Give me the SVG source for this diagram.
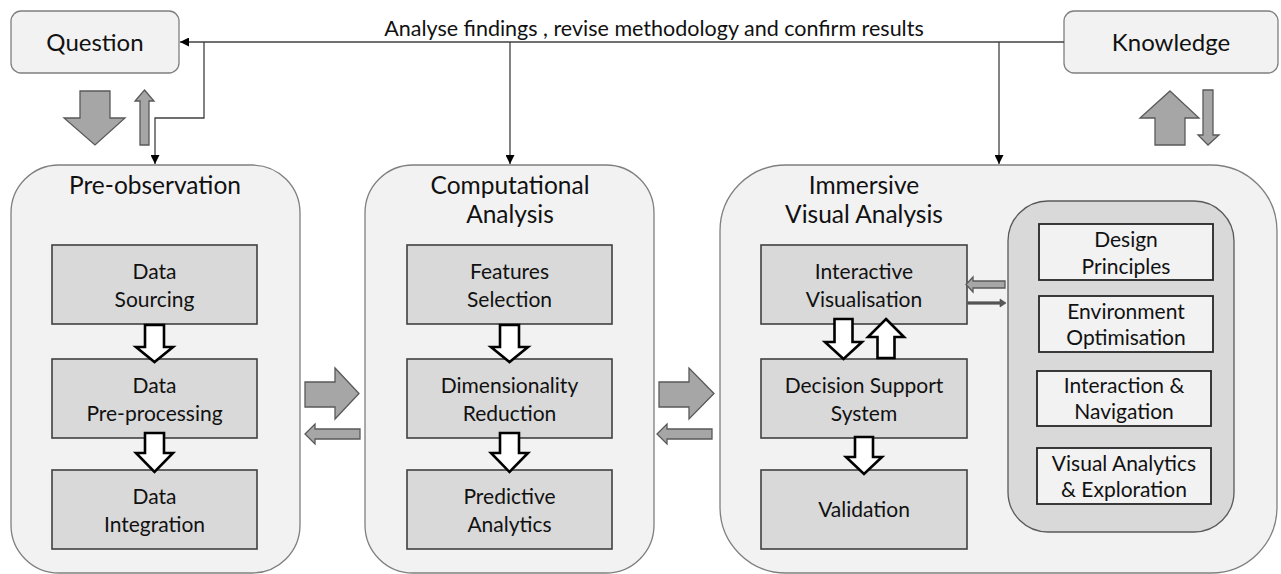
<svg xmlns="http://www.w3.org/2000/svg" width="1281" height="574" viewBox="0 0 1281 574">
  <defs>
    <style>
      .txt { font-family: Lato, "Open Sans", "Liberation Sans", sans-serif; fill: #111111; text-anchor: middle; }
      .title { font-size: 24.5px; }
      .lbl { font-size: 21px; }
      .end { font-size: 24px; }
      .note { font-size: 21.5px; }
      .endbox { fill: #f2f2f2; stroke: #7f7f7f; stroke-width: 1.3; }
      .stage { fill: #f2f2f2; stroke: #7f7f7f; stroke-width: 1.3; }
      .step { fill: #d9d9d9; stroke: #404040; stroke-width: 1.6; }
      .pool { fill: #d9d9d9; stroke: #595959; stroke-width: 1.3; }
      .item { fill: #f2f2f2; stroke: #262626; stroke-width: 1.8; }
      .flow { fill: none; stroke: #404040; stroke-width: 1.3; }
      .block { fill: #a6a6a6; stroke: #595959; stroke-width: 1.3; stroke-linejoin: miter; }
      .hollow { fill: #ffffff; stroke: #000000; stroke-width: 2.6; stroke-linejoin: miter; }
    </style>
    <marker id="tri" viewBox="0 0 10 10" refX="10" refY="5" markerWidth="9" markerHeight="9" markerUnits="userSpaceOnUse" orient="auto">
      <path d="M0,0 L10,5 L0,10 z" fill="#000"/>
    </marker>
  </defs>

  <!-- end points -->
  <g id="question">
    <rect class="endbox" x="11" y="11" width="168" height="62" rx="10"/>
    <text class="txt end" x="95" y="51">Question</text>
  </g>
  <g id="knowledge">
    <rect class="endbox" x="1064" y="11" width="214" height="62" rx="10"/>
    <text class="txt end" x="1171" y="51">Knowledge</text>
  </g>

  <!-- stage 1 -->
  <g id="pre-observation">
    <rect class="stage" x="11" y="165" width="289" height="408" rx="48"/>
    <text class="txt title" x="155" y="194">Pre-observation</text>
  </g>
  <g id="data-sourcing">
    <rect class="step" x="52" y="245" width="205" height="79"/>
    <text class="txt lbl" x="154.5" y="278.5">Data</text>
    <text class="txt lbl" x="154.5" y="307">Sourcing</text>
  </g>
  <g id="data-preprocessing">
    <rect class="step" x="52" y="359" width="205" height="79"/>
    <text class="txt lbl" x="154.5" y="393">Data</text>
    <text class="txt lbl" x="154.5" y="421">Pre-processing</text>
  </g>
  <g id="data-integration">
    <rect class="step" x="52" y="470" width="205" height="79"/>
    <text class="txt lbl" x="154.5" y="503.5">Data</text>
    <text class="txt lbl" x="154.5" y="531.5">Integration</text>
  </g>

  <!-- stage 2 -->
  <g id="computational-analysis">
    <rect class="stage" x="365" y="165" width="289" height="408" rx="48"/>
    <text class="txt title" x="510" y="194">Computational</text>
    <text class="txt title" x="510" y="223">Analysis</text>
  </g>
  <g id="features-selection">
    <rect class="step" x="407" y="245" width="205" height="79"/>
    <text class="txt lbl" x="509.5" y="278.5">Features</text>
    <text class="txt lbl" x="509.5" y="307">Selection</text>
  </g>
  <g id="dimensionality-reduction">
    <rect class="step" x="407" y="359" width="205" height="79"/>
    <text class="txt lbl" x="509.5" y="393">Dimensionality</text>
    <text class="txt lbl" x="509.5" y="421">Reduction</text>
  </g>
  <g id="predictive-analytics">
    <rect class="step" x="407" y="470" width="205" height="79"/>
    <text class="txt lbl" x="509.5" y="503.5">Predictive</text>
    <text class="txt lbl" x="509.5" y="531.5">Analytics</text>
  </g>

  <!-- stage 3 -->
  <g id="immersive-visual-analysis">
    <rect class="stage" x="720" y="165" width="557" height="408" rx="66"/>
    <text class="txt title" x="864" y="194">Immersive</text>
    <text class="txt title" x="864" y="223">Visual Analysis</text>
  </g>
  <g id="interactive-visualisation">
    <rect class="step" x="761" y="245" width="206" height="79"/>
    <text class="txt lbl" x="864" y="278.5">Interactive</text>
    <text class="txt lbl" x="864" y="306.5">Visualisation</text>
  </g>
  <g id="decision-support-system">
    <rect class="step" x="761" y="359" width="206" height="79"/>
    <text class="txt lbl" x="864" y="393">Decision Support</text>
    <text class="txt lbl" x="864" y="421">System</text>
  </g>
  <g id="validation">
    <rect class="step" x="761" y="470" width="206" height="79"/>
    <text class="txt lbl" x="864" y="517">Validation</text>
  </g>

  <!-- immersive environment aspects -->
  <g id="environment-aspects">
    <rect class="pool" x="1008" y="201" width="226" height="331" rx="40"/>
  </g>
  <g id="design-principles">
    <rect class="item" x="1039" y="224" width="174" height="56"/>
    <text class="txt lbl" x="1126" y="247">Design</text>
    <text class="txt lbl" x="1126" y="273.5">Principles</text>
  </g>
  <g id="environment-optimisation">
    <rect class="item" x="1039" y="296" width="174" height="56"/>
    <text class="txt lbl" x="1126" y="318.5">Environment</text>
    <text class="txt lbl" x="1126" y="345">Optimisation</text>
  </g>
  <g id="interaction-navigation">
    <rect class="item" x="1037" y="371" width="174" height="55"/>
    <text class="txt lbl" x="1124" y="392.5">Interaction &amp;</text>
    <text class="txt lbl" x="1124" y="419">Navigation</text>
  </g>
  <g id="visual-analytics-exploration">
    <rect class="item" x="1037" y="448" width="174" height="56"/>
    <text class="txt lbl" x="1124" y="470.5">Visual Analytics</text>
    <text class="txt lbl" x="1124" y="497">&amp; Exploration</text>
  </g>

  <!-- connectors -->
  <g id="connectors">
    <!-- feedback loop along the top -->
    <text class="txt note" x="654" y="36">Analyse findings , revise methodology and confirm results</text>
    <path class="flow" d="M1064,42 H180" marker-end="url(#tri)"/>
    <path class="flow" d="M204,42 V118 H155 V164" marker-end="url(#tri)"/>
    <path class="flow" d="M510,42 V164" marker-end="url(#tri)"/>
    <path class="flow" d="M999,42 V164" marker-end="url(#tri)"/>

    <!-- question exchange -->
    <polygon class="block" points="80,91 110,91 110,118 125,118 95,145 64,118 80,118"/>
    <polygon class="block" points="144.5,90 154,101 149,101 149,145 140,145 140,101 135,101"/>

    <!-- knowledge exchange -->
    <polygon class="block" points="1170,91 1199,118 1185,118 1185,145 1155,145 1155,118 1140,118"/>
    <polygon class="block" points="1203,90 1213,90 1213,135 1219,135 1208,145 1198,135 1203,135"/>

    <!-- between stages -->
    <polygon class="block" points="305,382 335,382 335,368 359,393.5 335,419 335,407 305,407"/>
    <polygon class="block" points="360,429 315,429 315,424 305,434 315,444 315,439 360,439"/>
    <polygon class="block" points="659,382 689,382 689,368 714,393.5 689,419 689,407 659,407"/>
    <polygon class="block" points="712,429 667,429 667,424 657,434 667,444 667,439 712,439"/>

    <!-- steps inside pre-observation -->
    <polygon class="hollow" points="145,325 164,325 164,347 173,347 154.5,362 136,347 145,347"/>
    <polygon class="hollow" points="145,433 164,433 164,453 173,453 154.5,472 136,453 145,453"/>

    <!-- steps inside computational analysis -->
    <polygon class="hollow" points="500,325 519,325 519,347 528,347 509.5,362 491,347 500,347"/>
    <polygon class="hollow" points="500,433 519,433 519,453 528,453 509.5,472 491,453 500,453"/>

    <!-- steps inside immersive visual analysis -->
    <polygon class="hollow" points="834.5,319 852.5,319 852.5,342 862,342 843.5,359 825,342 834.5,342"/>
    <polygon class="hollow" points="886,319 904,337 894.5,337 894.5,358 877.5,358 877.5,337 868,337"/>
    <polygon class="hollow" points="855,437 873,437 873,457 882,457 864,474 846,457 855,457"/>

    <!-- exchange with environment aspects -->
    <polygon class="block" points="1005,281 973,281 973,277 966,284.5 973,292 973,288 1005,288"/>
    <polygon fill="#595959" stroke="#404040" stroke-width="0.6" points="968,301.8 1000,301.8 1000,299 1006,303 1000,307 1000,304.2 968,304.2"/>
  </g>
</svg>
